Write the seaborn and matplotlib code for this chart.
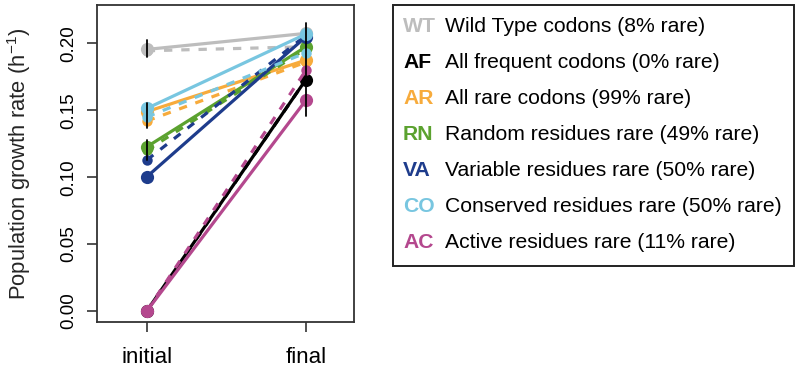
import matplotlib
matplotlib.use("Agg")
import matplotlib.pyplot as plt
import seaborn as sns
import pandas as pd
from matplotlib.patches import Rectangle

sns.set_style("ticks")
plt.rcParams['font.family'] = ['Liberation Sans', 'DejaVu Sans']

# ---- data ----
times = ["initial", "final"]
codes = ["WT", "AF", "AR", "RN", "VA", "CO", "AC"]
descriptions = [
    "Wild Type codons (8% rare)",
    "All frequent codons (0% rare)",
    "All rare codons (99% rare)",
    "Random residues rare (49% rare)",
    "Variable residues rare (50% rare)",
    "Conserved residues rare (50% rare)",
    "Active residues rare (11% rare)",
]
colors = ["#bdbdbd", "#000000", "#f7ab3c", "#5ba22f", "#1e3c8c", "#78c6e0", "#b4488e"]

# replicate 1 (solid) and replicate 2 (dashed): [initial, final]
rep_solid = {
    "WT": [0.1955, 0.2075],
    "AF": [0.0, 0.173],
    "AR": [0.1490, 0.1875],
    "RN": [0.1227, 0.1975],
    "VA": [0.1003, 0.2050],
    "CO": [0.1514, 0.2070],
    "AC": [0.0, 0.1576],
}
rep_dashed = {
    "WT": [0.1945, 0.1975],
    "AF": [0.0, 0.173],
    "AR": [0.1420, 0.1860],
    "RN": [0.1200, 0.1960],
    "VA": [0.1128, 0.2060],
    "CO": [0.1450, 0.1930],
    "AC": [0.0, 0.1800],
}
# error bars: (time, low, high)
err_time = ["initial", "initial", "initial", "final"]
err_low = [0.1900, 0.1367, 0.1130, 0.1457]
err_high = [0.2025, 0.1555, 0.1280, 0.2150]

rows = []
for c in codes:
    for t, v in zip(times, rep_solid[c]):
        rows.append(dict(code=c, rep="solid", time=t, x=times.index(t), value=v))
    for t, v in zip(times, rep_dashed[c]):
        rows.append(dict(code=c, rep="dashed", time=t, x=times.index(t), value=v))
df = pd.DataFrame(rows)

fig = plt.figure(figsize=(8, 3.68), dpi=100)
ax = fig.add_axes([0.121, 0.125, 0.3215, 0.8614])

for c, col in zip(codes, colors):
    d2 = df[(df.code == c) & (df.rep == "dashed")]
    sns.lineplot(data=d2, x="x", y="value", ax=ax, color=col, lw=2.3,
                 linestyle=(0, (2.6, 2.8)), marker="o", markersize=7.5,
                 markeredgewidth=0, estimator=None, legend=False)
    d1 = df[(df.code == c) & (df.rep == "solid")]
    sns.lineplot(data=d1, x="x", y="value", ax=ax, color=col, lw=2.3,
                 marker="o", markersize=9.5, markeredgewidth=0,
                 estimator=None, legend=False)

for t, lo, hi in zip(err_time, err_low, err_high):
    xi = times.index(t)
    ax.plot([xi, xi], [lo, hi], color="black", lw=1.3, zorder=10)

ax.set_xlim(-0.314, 1.302)
ax.set_ylim(-0.0082, 0.2287)
ax.set_xticks([0, 1])
ax.set_xticklabels(times, fontsize=16)
ax.set_yticks([0.0, 0.05, 0.10, 0.15, 0.20])
ax.set_yticklabels(["0.00", "0.05", "0.10", "0.15", "0.20"], rotation=90,
                   va="center", fontsize=13.5)
ax.tick_params(axis="both", length=7, width=1.2, colors="#333333")
ax.tick_params(axis="x", pad=11, labelcolor="black")
ax.tick_params(axis="y", pad=7, labelcolor="black")
ax.set_xlabel("")
ax.set_ylabel("Population growth rate (h$^{\\mathregular{-1}}$)", fontsize=15.8, labelpad=20)
for s in ax.spines.values():
    s.set_linewidth(1.3)
    s.set_color("#333333")

# legend box
W, H = 800, 368
rect = Rectangle((392.5 / W, (H - 266) / H), (794 - 392.5) / W, (266 - 4.5) / H,
                 transform=fig.transFigure, fill=False, edgecolor="#222222", lw=1.4)
fig.add_artist(rect)
for i, (c, col, desc) in enumerate(zip(codes, colors, descriptions)):
    yy = (H - (27 + i * 35.9)) / H
    fig.text(403 / W, yy, c, color=col, fontweight="bold", fontsize=15.2, va="center", ha="left")
    fig.text(445 / W, yy, desc, color="black", fontsize=15.2, va="center", ha="left")

fig.savefig("out.png", dpi=100)
